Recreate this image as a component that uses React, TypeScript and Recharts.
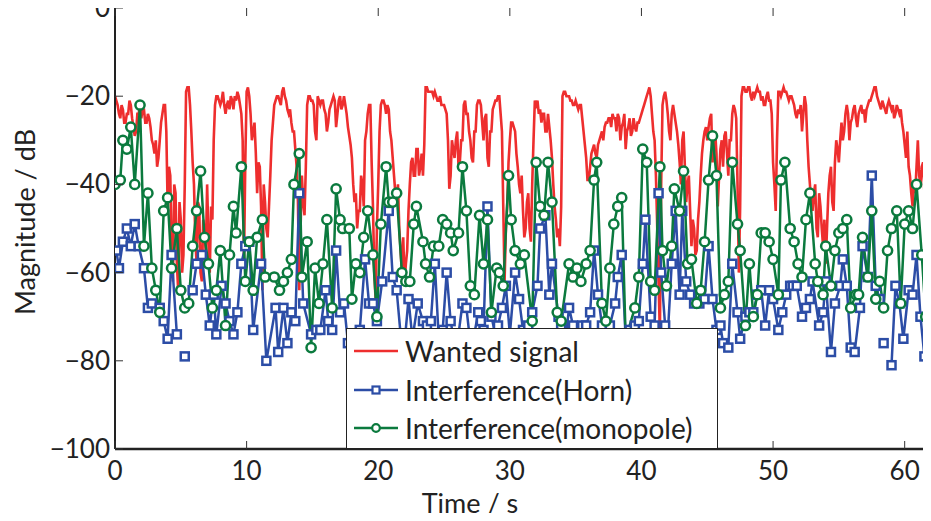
import React from 'react';
import { LineChart, Line, XAxis, YAxis } from 'recharts';

// plot frame (page pixels, svg sits at the page origin)
const W = 931;
const H = 521;
const PLOT_LEFT = 115;
const PLOT_TOP = 8;
const PLOT_BOTTOM = 449;
const PLOT_RIGHT = 931;
const X_MAX = 62.0;
const TICK_LEN = 8;
const FONT = 'Lato, "Open Sans", sans-serif';

const RED = '#ee2e2e';
const BLUE = '#2c4da6';
const GREEN = '#0b7a3e';

const xTicks = [0, 10, 20, 30, 40, 50, 60];
const yTicks = [-100, -80, -60, -40, -20, 0];

// wanted signal, sampled every 0.1 s from t = 0 (one row per second)
const WANTED_DT = 0.1;
const wantedMag = [
  -20, -21, -22, -24, -25, -22, -23, -26, -26, -24,
  -24, -21, -22, -25, -27, -29, -28, -24, -24, -22,
  -25, -23, -23, -26, -26, -24, -25, -27, -30, -31,
  -33, -30, -36, -34, -30, -26, -24, -22, -22, -28,
  -45, -36, -38, -55, -62, -40, -42, -58, -64, -44,
  -48, -60, -56, -40, -19, -18, -18, -22, -28, -35,
  -40, -52, -58, -44, -45, -60, -62, -48, -50, -56,
  -40, -52, -60, -45, -48, -30, -22, -20, -20, -21,
  -22, -21, -19, -22, -24, -22, -21, -23, -20, -21,
  -23, -20, -21, -19, -20, -22, -24, -30, -58, -35,
  -19, -18, -20, -24, -30, -28, -26, -33, -42, -35,
  -36, -45, -64, -40, -44, -50, -52, -45, -38, -30,
  -26, -22, -21, -20, -20, -21, -22, -19, -18, -20,
  -21, -23, -24, -23, -26, -28, -28, -32, -36, -44,
  -64, -50, -38, -44, -47, -36, -22, -20, -20, -21,
  -21, -22, -28, -30, -20, -21, -22, -21, -21, -23,
  -24, -28, -26, -23, -22, -21, -20, -21, -27, -24,
  -21, -20, -23, -22, -20, -22, -24, -27, -29, -31,
  -34, -40, -44, -42, -50, -46, -46, -38, -40, -45,
  -30, -28, -24, -22, -22, -35, -45, -60, -66, -50,
  -40, -28, -22, -21, -21, -22, -24, -22, -23, -28,
  -30, -34, -38, -42, -44, -40, -50, -55, -60, -52,
  -62, -58, -55, -46, -40, -35, -34, -38, -38, -32,
  -32, -38, -36, -33, -38, -31, -18, -18, -19, -19,
  -19, -19, -20, -19, -20, -21, -21, -20, -22, -22,
  -22, -23, -24, -30, -41, -38, -30, -32, -34, -30,
  -28, -36, -35, -30, -30, -22, -21, -24, -24, -28,
  -30, -34, -35, -28, -28, -22, -21, -21, -22, -26,
  -30, -25, -24, -34, -36, -28, -28, -23, -22, -21,
  -21, -20, -20, -24, -28, -45, -62, -50, -45, -35,
  -30, -26, -26, -27, -28, -33, -36, -40, -42, -38,
  -46, -52, -50, -44, -42, -50, -53, -40, -30, -21,
  -22, -21, -24, -23, -26, -24, -24, -28, -28, -24,
  -27, -30, -34, -40, -45, -48, -52, -50, -54, -45,
  -20, -19, -19, -20, -20, -20, -21, -21, -22, -22,
  -21, -22, -23, -22, -22, -25, -28, -31, -34, -39,
  -39, -36, -33, -32, -31, -33, -34, -31, -30, -29,
  -28, -30, -27, -26, -26, -25, -25, -27, -24, -25,
  -25, -28, -24, -25, -30, -27, -26, -24, -32, -28,
  -27, -25, -29, -28, -25, -27, -28, -26, -26, -25,
  -24, -23, -22, -21, -20, -19, -18, -20, -24, -28,
  -30, -38, -50, -62, -74, -40, -22, -20, -19, -21,
  -24, -28, -30, -24, -22, -24, -26, -28, -31, -35,
  -40, -30, -28, -36, -44, -40, -38, -46, -54, -48,
  -50, -56, -55, -48, -44, -38, -33, -30, -28, -27,
  -30, -27, -25, -24, -35, -30, -28, -33, -45, -38,
  -32, -30, -36, -29, -28, -33, -38, -30, -30, -24,
  -22, -23, -25, -40, -60, -45, -20, -18, -18, -19,
  -19, -18, -18, -20, -21, -19, -20, -19, -18, -19,
  -19, -21, -20, -22, -22, -20, -19, -21, -21, -24,
  -35, -40, -46, -30, -19, -19, -20, -19, -18, -19,
  -19, -20, -21, -20, -20, -21, -22, -24, -25, -23,
  -24, -22, -28, -24, -20, -22, -30, -36, -40, -44,
  -46, -42, -40, -50, -52, -42, -45, -50, -54, -48,
  -58, -50, -42, -38, -36, -44, -46, -35, -30, -32,
  -35, -30, -26, -30, -28, -24, -22, -24, -30, -26,
  -25, -23, -22, -25, -27, -24, -23, -22, -24, -23,
  -26, -23, -22, -21, -21, -20, -19, -18, -18, -20,
  -21, -22, -23, -21, -22, -23, -24, -22, -21, -22,
  -23, -22, -25, -24, -22, -23, -24, -23, -26, -28,
  -31, -34, -28, -36, -38, -42, -45, -40, -42, -36,
  -30, -38, -40, -36, -35, -42, -43, -40, -38, -35,
  -36,
];

// interference, horn antenna (null = gap in the trace)
const hornTime = [
  0.1, 0.3, 0.6, 0.9, 1.2, 1.5, 1.8, 2.2, 2.5, 2.8,
  3.4, 3.7, 4.0, 4.3, 4.7, 5.0, 5.3, 5.6, 5.9, 6.2,
  6.6, 6.9, 7.2, 7.5, 7.7, 8.1, 8.4, 8.7, 9.0, 9.3,
  9.6, 9.9, 10.2, 10.5, 11.1, 11.5, 12.2, 12.4, 12.8, 13.1,
  13.4, 13.7, 14.0, 14.3, 14.9, 15.3, 15.6, 16.0, 16.2, 16.5,
  16.8, 17.1, 17.4, 17.7, 18.0, 18.3, 18.6, 19.0, 19.3, 19.6,
  19.9, 20.3, 20.8, 21.1, 21.4, 21.7, 22.0, 22.3, 22.6, 23.0,
  23.4, 23.7, 24.0, 24.3, 24.6, 24.9, 25.2, 25.5, 25.8, 26.1,
  26.4, 26.7, 27.0, 27.3, 27.6, 27.8, 28.0, 28.3, 28.6, 28.9,
  29.1, 29.4, 29.7, 30.0, 30.4, 30.7, 31.0, 31.4, 31.7, 32.1,
  32.3, 32.7, 33.0, 33.2, 33.7, 33.9, 34.2, 34.5, 34.8, 35.1,
  35.5, 35.8, 36.1, 36.4, 36.7, 37.0, 37.3, 37.6, 38.0, 38.2,
  38.5, 38.8, 39.1, 39.5, 39.8, 40.1, 40.3, 40.7, 41.0, 41.3,
  41.5, 41.8, 42.0, 42.3, 42.6, 42.9, 43.1, 43.4, 43.7, 44.0,
  44.4, 44.8, 45.1, 45.4, 45.7, 46.0, 46.2, 46.6, 46.9, 47.3,
  47.5, 47.9, 48.2, 48.5, 48.8, 49.1, 49.4, 49.7, 50.0, 50.4,
  50.7, 51.0, 51.3, 51.5, 51.8, 52.2, 52.5, 52.8, 53.0, 53.5,
  53.8, 54.0, 54.4, 54.7, 55.1, 55.3, 55.6, 55.9, 56.2, 56.6,
  56.8, 57.2, 57.5, 57.8, 58.1, 58.25, 58.4, 58.55, 59.0, 59.3,
  59.6, 59.9, 60.3, 60.6, 60.9, 61.2, 61.5, 61.8,
];
const hornMag = [
  -55, -59, -53, -50, -54, -49, -54, -59, -68, -67,
  -68, -71, -75, -56, -74, null, -79, null, -64, -58,
  -56, -65, -72, -65, -74, -63, -67, -71, -74, -69,
  -58, -54, -53, -73, -58, -80, -68, -78, -68, -76,
  -69, -71, -42, -67, -74, -73, -73, -64, -71, -73,
  -55, -69, -67, -76, -74, -78, -73, -57, -67, -67,
  -71, -62, -46, -61, -64, -74, -76, -66, -75, -67,
  -71, -72, -71, -58, -75, -73, -60, -71, -76, -74,
  -67, -68, -76, -74, -69, -71, -73, -45, -70, -74,
  -72, -68, -63, -74, -60, -66, -73, -72, -69, -63,
  -50, -47, -65, -58, -70, -72, -76, -68, -72, -75,
  -72, -72, -69, -55, -65, -72, -75, -72, -67, -61,
  -56, -75, -73, -72, -71, -58, -48, -70, -72, -42,
  -60, -72, -74, -58, -46, -65, -46, -62, -65, -67,
  -67, -66, -54, -66, -73, -72, -76, -77, -58, -69,
  -75, -70, -69, -69, -65, -64, -72, -64, -66, -73,
  -69, -65, -63, -63, -63, -70, -68, -66, -62, -72,
  -69, -62, -78, -67, -63, -57, -63, -77, -78, -68,
  -54, -61, -38, -63, -66, null, -76, null, -81, -63,
  -67, -75, -64, -65, -56, -70, -79, -77,
];

// interference, monopole antenna
const monoTime = [
  0.0, 0.4, 0.6, 0.9, 1.2, 1.5, 1.9, 2.2, 2.5, 2.8,
  3.1, 3.4, 3.7, 4.0, 4.3, 4.7, 5.0, 5.3, 5.6, 5.9,
  6.2, 6.5, 6.8, 7.1, 7.4, 7.7, 8.0, 8.4, 8.7, 9.0,
  9.2, 9.6, 9.9, 10.2, 10.5, 10.8, 11.2, 11.4, 12.1, 12.5,
  12.8, 13.1, 13.4, 13.6, 14.0, 14.2, 14.6, 14.9, 15.2, 15.5,
  15.8, 16.1, 16.5, 16.8, 17.1, 17.3, 17.8, 18.0, 18.3, 18.6,
  18.9, 19.2, 19.6, 19.9, 20.2, 20.6, 20.8, 21.1, 21.4, 21.8,
  22.1, 22.4, 22.7, 22.9, 23.4, 23.6, 23.9, 24.2, 24.6, 24.9,
  25.2, 25.5, 25.7, 26.1, 26.4, 26.7, 27.0, 27.3, 27.7, 28.0,
  28.3, 28.6, 29.0, 29.2, 29.5, 29.9, 30.1, 30.4, 30.8, 31.1,
  31.7, 32.0, 32.3, 32.6, 32.9, 33.2, 33.6, 33.9, 34.5, 34.8,
  35.1, 35.4, 35.8, 36.1, 36.4, 36.6, 37.0, 37.3, 37.6, 37.9,
  38.2, 38.5, 38.8, 39.5, 39.8, 40.1, 40.4, 40.7, 41.0, 41.4,
  41.6, 41.9, 42.3, 42.5, 42.9, 43.2, 43.5, 43.8, 44.2, 44.5,
  44.8, 45.1, 45.4, 45.7, 46.0, 46.3, 46.6, 46.9, 47.3, 47.5,
  47.9, 48.2, 48.5, 48.8, 49.1, 49.4, 49.7, 50.0, 50.4, 50.6,
  50.9, 51.3, 51.6, 51.9, 52.2, 52.5, 52.8, 53.2, 53.4, 53.8,
  54.0, 54.4, 54.7, 55.0, 55.3, 55.6, 55.9, 56.3, 56.5, 56.8,
  57.2, 57.5, 57.8, 58.1, 58.4, 58.7, 59.0, 59.4, 59.7, 60.0,
  60.3, 60.6, 60.9, 61.3, 61.6, 61.9,
];
const monoMag = [
  -40, -39, -30, -32, -27, -40, -22, -54, -42, -59,
  -64, -69, -46, -43, -59, -50, -64, -68, -67, -54,
  -46, -37, -52, -58, -68, -64, -55, -72, -56, -45,
  -51, -36, -62, -53, -64, -52, -48, -61, -61, -64,
  -62, -60, -57, -40, -33, -61, -53, -77, -59, -67,
  -58, -48, -68, -41, -48, -50, -50, -66, -58, -60,
  -52, -46, -56, -70, -49, -36, -44, -44, -42, -60,
  -62, -62, -49, -45, -53, -58, -61, -54, -54, -48,
  -49, -51, -55, -51, -36, -46, -63, -65, -47, -58,
  -48, -69, -59, -60, -63, -38, -48, -55, -58, -56,
  -71, -35, -45, -47, -35, -44, -69, -71, -58, -61,
  -59, -62, -58, -55, -39, -35, -67, -71, -59, -49,
  -45, -43, -75, -68, -61, -32, -35, -62, -64, -36,
  -55, -63, -54, -41, -46, -37, -58, -57, -67, -64,
  -53, -39, -29, -38, -68, -65, -62, -35, -49, -55,
  -72, -58, -70, -65, -51, -51, -53, -57, -65, -39,
  -35, -50, -53, -58, -61, -48, -42, -58, -62, -65,
  -54, -63, -55, -51, -50, -48, -68, -65, -65, -52,
  -61, -46, -66, -62, -68, -55, -50, -46, -67, -49,
  -46, -50, -40, -56, -70, -70,
];

const wantedData = wantedMag.map((v, i) => ({ t: +(i * WANTED_DT).toFixed(2), v }));
const hornData = hornTime.map((t, i) => ({ t, v: hornMag[i] }));
const monoData = monoTime.map((t, i) => ({ t, v: monoMag[i] }));

const fmtY = (v: number) => (v === 0 ? '0' : `\u2212${Math.abs(v)}`);

const XTick = (props: any) => {
  const { x, payload } = props;
  return (
    <g>
      <line x1={x} x2={x} y1={PLOT_BOTTOM} y2={PLOT_BOTTOM - TICK_LEN} stroke="#333" />
      <line x1={x} x2={x} y1={PLOT_TOP} y2={PLOT_TOP + TICK_LEN} stroke="#333" />
      <text x={x} y={PLOT_BOTTOM + 31} textAnchor="middle" fontSize={26} fill="#222" fontFamily={FONT}>
        {payload.value}
      </text>
    </g>
  );
};

const YTick = (props: any) => {
  const { y, payload } = props;
  return (
    <g>
      <line x1={PLOT_LEFT} x2={PLOT_LEFT + TICK_LEN} y1={y} y2={y} stroke="#333" />
      <line x1={PLOT_RIGHT} x2={PLOT_RIGHT - TICK_LEN} y1={y} y2={y} stroke="#333" />
      <text x={PLOT_LEFT - 5} y={y + 9} textAnchor="end" fontSize={26} fill="#222" fontFamily={FONT}>
        {fmtY(payload.value)}
      </text>
    </g>
  );
};

const SquareDot = (p: any) => {
  if (p.cx == null || p.cy == null || p.value == null) return <g key={p.index} />;
  return (
    <rect key={p.index} x={p.cx - 4} y={p.cy - 4} width={8} height={8} fill="#fff" stroke={BLUE} strokeWidth={2.5} />
  );
};

const CircleDot = (p: any) => {
  if (p.cx == null || p.cy == null) return <g key={p.index} />;
  return <circle key={p.index} cx={p.cx} cy={p.cy} r={4.6} fill="#fff" stroke={GREEN} strokeWidth={2.5} />;
};

const legendRows = [
  { name: 'Wanted signal', color: RED, marker: 'none' },
  { name: 'Interference(Horn)', color: BLUE, marker: 'square' },
  { name: 'Interference(monopole)', color: GREEN, marker: 'circle' },
];

function LegendBox() {
  return (
    <div
      style={{
        position: 'absolute',
        left: 346,
        top: 328,
        width: 372,
        height: 121,
        boxSizing: 'border-box',
        background: '#fff',
        border: '1.4px solid #222',
        paddingTop: 3,
        fontFamily: FONT,
      }}
    >
      {legendRows.map((r) => (
        <div key={r.name} style={{ display: 'flex', alignItems: 'center', height: 38.5 }}>
          <svg width={56} height={20} style={{ marginLeft: 5, flex: 'none' }}>
            <line x1={2} x2={46} y1={10} y2={10} stroke={r.color} strokeWidth={2.5} />
            {r.marker === 'square' && (
              <rect x={20.5} y={6.5} width={7} height={7} fill="#fff" stroke={r.color} strokeWidth={2.2} />
            )}
            {r.marker === 'circle' && <circle cx={24} cy={10} r={3.8} fill="#fff" stroke={r.color} strokeWidth={2.2} />}
          </svg>
          <span style={{ fontSize: 28, color: '#222', marginLeft: -3, lineHeight: 1 }}>{r.name}</span>
        </div>
      ))}
    </div>
  );
}

export default function App() {
  return (
    <div style={{ position: 'relative', width: W, height: H, overflow: 'hidden', margin: '-8px 0 -8px -8px' }}>
      <LineChart width={W} height={H} margin={{ top: PLOT_TOP, right: W - PLOT_RIGHT, bottom: 0, left: 0 }}>
        <XAxis
          type="number"
          dataKey="t"
          domain={[0, X_MAX]}
          allowDataOverflow
          ticks={xTicks}
          interval={0}
          height={H - PLOT_BOTTOM}
          tickLine={false}
          tick={<XTick />}
          axisLine={{ stroke: '#222', strokeWidth: 2.5 }}
          label={() => (
            <text x={470} y={513} textAnchor="middle" fontSize={27} fill="#222" fontFamily={FONT}>
              Time / s
            </text>
          )}
        />
        <XAxis
          xAxisId="top"
          orientation="top"
          type="number"
          domain={[0, X_MAX]}
          height={0}
          tick={false}
          tickLine={false}
          axisLine={{ stroke: '#444', strokeWidth: 1.2 }}
        />
        <YAxis
          type="number"
          domain={[-100, 0]}
          allowDataOverflow
          ticks={yTicks}
          interval={0}
          width={PLOT_LEFT}
          tickLine={false}
          tick={<YTick />}
          axisLine={{ stroke: '#222', strokeWidth: 2 }}
          label={() => (
            <text
              x={28}
              y={222}
              transform="rotate(-90 28 222)"
              textAnchor="middle"
              dominantBaseline="middle"
              fontSize={27}
              fill="#222"
              fontFamily={FONT}
            >
              Magnitude / dB
            </text>
          )}
        />
        <Line
          data={wantedData}
          dataKey="v"
          type="linear"
          stroke={RED}
          strokeWidth={2.6}
          dot={false}
          isAnimationActive={false}
        />
        <Line
          data={hornData}
          dataKey="v"
          type="linear"
          stroke={BLUE}
          strokeWidth={2.5}
          dot={SquareDot}
          isAnimationActive={false}
        />
        <Line
          data={monoData}
          dataKey="v"
          type="linear"
          stroke={GREEN}
          strokeWidth={2.5}
          dot={CircleDot}
          isAnimationActive={false}
        />
      </LineChart>
      <LegendBox />
    </div>
  );
}
